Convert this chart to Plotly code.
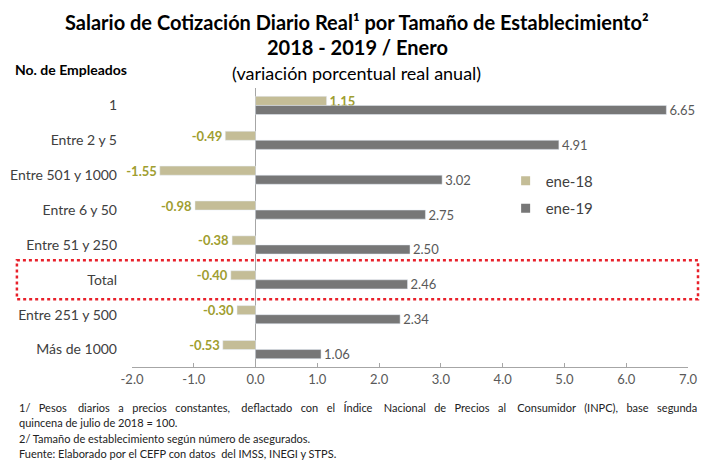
import plotly.graph_objects as go

categorias = ['1', 'Entre 2 y 5', 'Entre 501 y 1000', 'Entre 6 y 50', 'Entre 51 y 250',
              'Total', 'Entre 251 y 500', 'Más de 1000']
ene_18 = [1.15, -0.49, -1.55, -0.98, -0.38, -0.40, -0.30, -0.53]
ene_19 = [6.65, 4.91, 3.02, 2.75, 2.50, 2.46, 2.34, 1.06]
ticks_x = [-2, -1, 0, 1, 2, 3, 4, 5, 6, 7]

notas = [
    '1/ Pesos diarios a precios constantes, deflactado con el Índice Nacional de Precios al Consumidor (INPC), base segunda',
    'quincena de julio de 2018 = 100.',
    '2/ Tamaño de establecimiento según número de asegurados.',
    'Fuente: Elaborado por el CEFP con datos  del IMSS, INEGI y STPS.',
]

FUENTE = 'Lato, Open Sans, sans-serif'
TAN = '#c4bd97'
GRIS = '#777777'

fig = go.Figure()
fig.add_trace(go.Bar(y=categorias, x=ene_18, name='ene-18', orientation='h',
                     marker_color=TAN, showlegend=False,
                     text=[f'{v:.2f}' for v in ene_18], textposition='outside',
                     constraintext='none', textangle=0,
                     textfont=dict(color='#a09e30', size=13, family=FUENTE, weight='bold'),
                     cliponaxis=False))
fig.add_trace(go.Bar(y=categorias, x=ene_19, name='ene-19', orientation='h',
                     marker_color=GRIS, showlegend=False,
                     text=[f'{v:.2f}' for v in ene_19], textposition='outside',
                     constraintext='none', textangle=0,
                     textfont=dict(color='#595959', size=13, family=FUENTE),
                     cliponaxis=False))

# entradas de leyenda con marcador cuadrado pequeño
for nombre, color, grupo in [('ene-18', TAN, 'a'), ('ene-19', GRIS, 'b')]:
    fig.add_trace(go.Scatter(x=[None], y=[None], mode='markers', name=nombre, legendgroup=grupo,
                             marker=dict(symbol='square', size=9, color=color)))

# recuadro punteado alrededor del Total
fig.add_shape(type='rect', xref='paper', yref='y', x0=-0.207, x1=1.018, y0=4.44, y1=5.56,
              line=dict(color='#e8202a', width=2.5, dash='dot'))

fig.add_annotation(text='<b>Salario de Cotización Diario Real¹ por Tamaño de Establecimiento²</b>',
                   xref='paper', yref='paper', x=0.405, y=1.0, xanchor='center', yanchor='middle',
                   yshift=66, showarrow=False, font=dict(size=20, color='#000', family=FUENTE))
fig.add_annotation(text='<b>2018 - 2019 / Enero</b>', xref='paper', yref='paper', x=0.405, y=1.0,
                   xanchor='center', yanchor='middle', yshift=41, showarrow=False,
                   font=dict(size=20, color='#000', family=FUENTE))
fig.add_annotation(text='(variación porcentual real anual)', xref='paper', yref='paper', x=0.404, y=1.0,
                   xanchor='center', yanchor='middle', yshift=15, showarrow=False,
                   font=dict(size=18, color='#000', family=FUENTE))
fig.add_annotation(text='<b>No. de Empleados</b>', xref='paper', yref='paper', x=-0.214, y=1.0,
                   xanchor='left', yanchor='middle', yshift=19, showarrow=False,
                   font=dict(size=14, color='#000', family=FUENTE))

# primera nota justificada como en el original (espacios extra)
for i, t in enumerate(notas):
    if i == 0:
        palabras = t.split(' ')
        texto = palabras[0]
        for k, p in enumerate(palabras[1:]):
            texto += ' ' + '\u00a0' * (3 if k % 4 == 1 else 2) + p
    else:
        texto = t
    fig.add_annotation(text=texto, xref='paper', yref='paper', x=-0.207, y=0, xanchor='left',
                       yanchor='middle', yshift=-40 - 15.5 * i, showarrow=False,
                       font=dict(size=11, color='#222', family=FUENTE))

fig.update_layout(
    width=705, height=458,
    margin=dict(l=124, r=25, t=80, b=99),
    paper_bgcolor='white', plot_bgcolor='white',
    font=dict(family=FUENTE, color='#404040'),
    barmode='group', bargap=0.48, bargroupgap=0,
    showlegend=True,
    legend=dict(x=0.672, y=0.726, xanchor='left', yanchor='top', tracegroupgap=5,
                font=dict(size=15, color='#404040'), bgcolor='rgba(0,0,0,0)'),
    xaxis=dict(range=[-2, 7], tickvals=ticks_x, ticktext=[f'{v:.1f}' for v in ticks_x],
               automargin=False,
               showgrid=False, zeroline=True, zerolinecolor='#a6a6a6', zerolinewidth=1,
               showline=True, linecolor='#a6a6a6', ticks='inside', ticklen=4, tickcolor='#a6a6a6',
               tickfont=dict(size=13, color='#595959')),
    yaxis=dict(categoryorder='array', categoryarray=categorias, autorange='reversed',
               automargin=False,
               showgrid=False, showline=False, ticks='', ticklabelstandoff=14,
               tickfont=dict(size=14, color='#404040')),
    # eje auxiliar en x=0 solo para las marcas entre categorías
    yaxis2=dict(overlaying='y', anchor='free', position=2 / 9, side='left',
                range=[len(categorias) - 0.5, -0.5], showgrid=False, zeroline=False,
                showline=False, showticklabels=False, ticks='outside', ticklen=4,
                tickcolor='#a6a6a6', tickvals=[k + 0.5 for k in range(len(categorias) - 1)],
                automargin=False),
)

fig.write_html('out.html')
